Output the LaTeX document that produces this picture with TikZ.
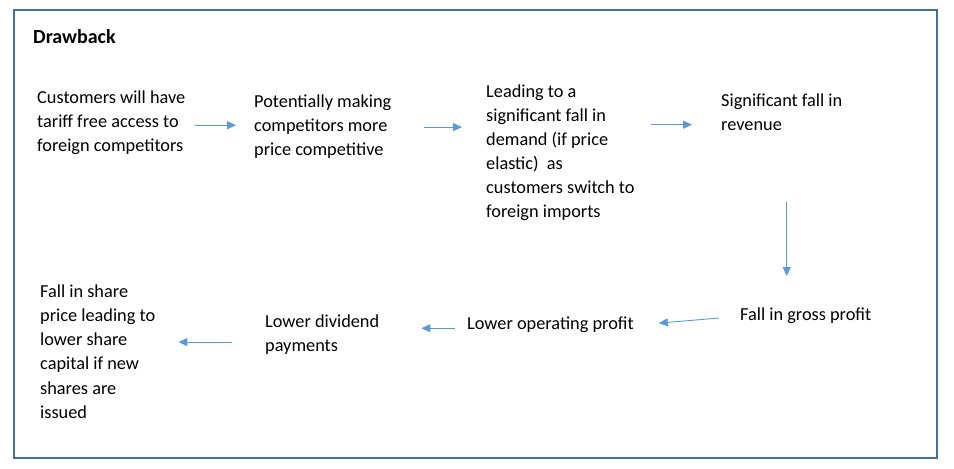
\documentclass[tikz,border=0pt]{standalone}
\usepackage{fontspec}
\setmainfont{Carlito}
\usepackage{xcolor}
\usetikzlibrary{arrows.meta,positioning,calc}
\definecolor{framecol}{RGB}{65,113,156}
\definecolor{arrowcol}{RGB}{91,155,213}

\begin{document}
\begin{tikzpicture}[x=1bp,y=-1bp,
    txt/.style={anchor=base west,align=left,inner sep=0pt,
                font=\fontsize{18.3bp}{24bp}\selectfont},
    arrow/.style={-{Triangle[length=9bp,width=8bp]},draw=arrowcol,line width=0.9bp}]
  \useasboundingbox (0,0) rectangle (954,469);
  \draw[framecol,line width=1.5bp] (14,10) rectangle (937,458);
  \node[txt,font=\fontsize{20bp}{24bp}\selectfont\bfseries] (title) at (33,44) {Drawback};
  % top row (anchored at the baseline of the last line)
  \node[txt] (cust) at (37,152) {Customers will have\\tariff free access to\\foreign competitors};
  \node[txt] (comp) at (254,156) {Potentially making\\competitors more\\price competitive};
  \node[txt] (dem) at (486,218) {Leading to a\\significant fall in\\demand (if price\\elastic)\ \ as\\customers switch to\\foreign imports};
  \node[txt] (rev) at (721,131) {Significant fall in\\revenue};
  % bottom row
  \node[txt] (gross) at (740,321) {Fall in gross profit};
  \node[txt] (oper) at (467,330) {Lower operating profit};
  \node[txt] (divi) at (265,352) {Lower dividend\\payments};
  \node[txt] (share) at (40,418) {Fall in share\\price leading to\\lower share\\capital if new\\shares are\\issued};
  \draw[arrow,shorten <=9bp,shorten >=18bp] ([yshift=-2pt]cust.east) -- ([yshift=-2pt]cust.east -| comp.west);
  \draw[arrow,shorten <=32bp,shorten >=24bp] (comp.east) -- (comp.east -| dem.west);
  \draw[arrow,shorten <=16bp,shorten >=29bp] ([yshift=-12pt]rev.west -| dem.east) -- ([yshift=-12pt]rev.west);
  \draw[arrow,shorten <=71bp,shorten >=32bp] ([xshift=5pt]rev.south) -- ([xshift=5pt]rev.south |- gross.north);
  \draw[arrow,shorten <=21bp,shorten >=25bp] (gross.west) -- (oper.east);
  \draw[arrow,shorten <=12bp,shorten >=42bp] ([yshift=-3pt]oper.west) -- ([yshift=-3pt]oper.west -| divi.east);
  \draw[arrow,shorten <=33bp,shorten >=23bp] ([yshift=-7pt]divi.west) -- ([yshift=-7pt]divi.west -| share.east);
\end{tikzpicture}
\end{document}
